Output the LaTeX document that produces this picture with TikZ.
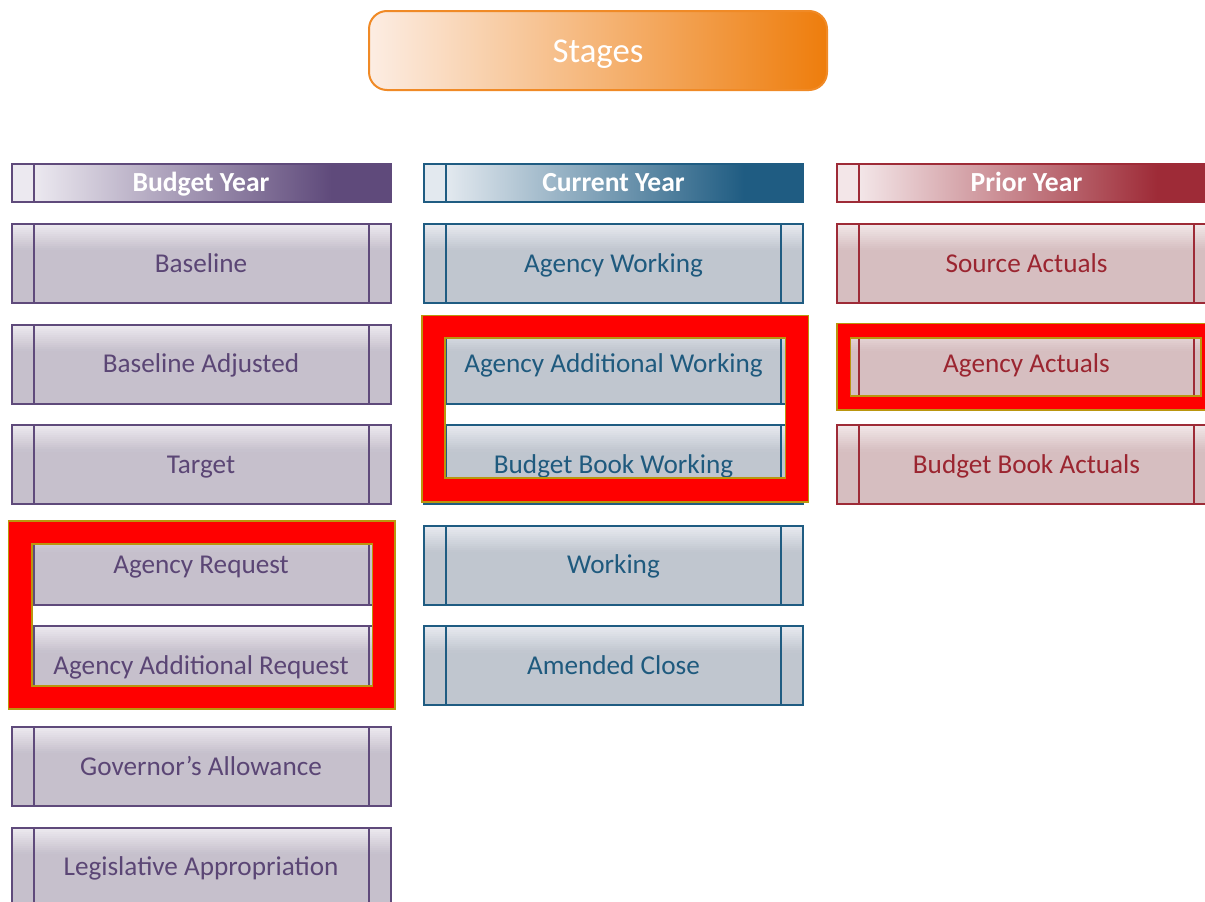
\documentclass[tikz,border=0pt]{standalone}
\usepackage{fontspec}
\setmainfont{Carlito}
\definecolor{byline}{HTML}{5F4A7B}
\definecolor{byfill}{HTML}{C6C0CC}
\definecolor{bytop}{HTML}{ECE9EF}
\definecolor{bytext}{HTML}{5B4675}
\definecolor{byhl}{HTML}{ECE9F0}
\definecolor{cyline}{HTML}{1F5C82}
\definecolor{cyfill}{HTML}{C0C6CF}
\definecolor{cytop}{HTML}{E7E9EF}
\definecolor{cytext}{HTML}{1F5A7E}
\definecolor{cyhl}{HTML}{E3E9EF}
\definecolor{pyline}{HTML}{9E2B37}
\definecolor{pyfill}{HTML}{D6BEC0}
\definecolor{pytop}{HTML}{F1E7E8}
\definecolor{pytext}{HTML}{9B2530}
\definecolor{pyhl}{HTML}{F3E6E8}
\definecolor{stgline}{HTML}{F08A26}
\definecolor{stglight}{HTML}{FCEDE3}
\definecolor{stgmid}{HTML}{F2AE70}
\definecolor{stgdark}{HTML}{EE7D0C}
\definecolor{hlgold}{HTML}{BA960E}
\tikzset{
  every node/.style={inner sep=0pt, outer sep=0pt},
  stgbox/.style={rectangle, minimum width=379pt, minimum height=79pt,
    line width=2pt, draw=#1line, fill=#1fill, text=#1text,
    text height=20pt, text depth=3pt,
    font=\fontsize{27.2}{30}\selectfont,
    path picture={
      \foreach \i in {0,...,12}{
        \pgfmathtruncatemacro\pp{100-\i*8}
        \pgfmathsetmacro\ya{-2*\i}
        \pgfmathsetmacro\yb{-2*\i-2.4}
        \fill[#1top!\pp!#1fill]
          ([yshift=\ya pt]path picture bounding box.north west) rectangle
          ([yshift=\yb pt]path picture bounding box.north east);
      }
      \draw[#1line, line width=2pt]
        ([xshift=22pt]path picture bounding box.north west) --
        ([xshift=22pt]path picture bounding box.south west)
        ([xshift=-22pt]path picture bounding box.north east) --
        ([xshift=-22pt]path picture bounding box.south east);
    }},
  stghead/.style={rectangle, minimum width=379pt, minimum height=38pt,
    line width=2pt, draw=#1line, text=white,
    text height=20.5pt, text depth=2.5pt,
    font=\bfseries\fontsize{27.6}{30}\selectfont,
    path picture={
      \fill[#1hl] (path picture bounding box.north west) rectangle
        ([xshift=22pt]path picture bounding box.south west);
      \fill[left color=#1hl, right color=#1line]
        ([xshift=22pt]path picture bounding box.north west) rectangle
        ([xshift=320pt]path picture bounding box.south west);
      \fill[#1line] ([xshift=320pt]path picture bounding box.north west)
        rectangle (path picture bounding box.south east);
      \draw[#1line, line width=2pt]
        ([xshift=22pt]path picture bounding box.north west) --
        ([xshift=22pt]path picture bounding box.south west);
    }},
  stagesbox/.style={rectangle, rounded corners=18pt, minimum width=458pt,
    minimum height=79pt, line width=2pt, draw=stgline,
    left color=stglight, middle color=stgmid, right color=stgdark,
    text height=26pt, text depth=1.6pt,
    text=white, font=\fontsize{34.8}{40}\selectfont},
  hlframe/.style={fill=red, even odd rule},
  hledge/.style={draw=hlgold, line width=1.6pt},
}
\begin{document}
\begin{tikzpicture}[x=1pt, y=-1pt]
\useasboundingbox (0,0) rectangle (1205,902);
\clip (0,0) rectangle (1205,902);
\fill[white] (0,0) rectangle (1205,902);

\node[stagesbox] (stages) at (598,50.5) {Stages};

% Budget Year
\node[stghead=by] (byh) at (201,182.5) {Budget Year};
\node[stgbox=by] (base) at (201,263.5) {Baseline};
\node[stgbox=by] (basea) at (201,364.1) {Baseline Adjusted};
\node[stgbox=by] (target) at (201,464.7) {Target};
\node[stgbox=by] (areq) at (201,565.3) {Agency Request};
\node[stgbox=by] (aareq) at (201,665.9) {Agency Additional Request};
\node[stgbox=by] (gov) at (201,766.5) {Governor’s Allowance};
\node[stgbox=by] (leg) at (201,867.1) {Legislative Appropriation};

% Current Year
\node[stghead=cy] (cyh) at (613.5,182.5) {Current Year};
\node[stgbox=cy] (aw) at (613.5,263.5) {Agency Working};
\node[stgbox=cy] (aaw) at (613.5,364.1) {Agency Additional Working};
\node[stgbox=cy] (bbw) at (613.5,464.7) {Budget Book Working};
\node[stgbox=cy] (work) at (613.5,565.3) {Working};
\node[stgbox=cy] (amc) at (613.5,665.9) {Amended Close};

% Prior Year
\node[stghead=py] (pyh) at (1026.5,182.5) {Prior Year};
\node[stgbox=py] (sa) at (1026.5,263.5) {Source Actuals};
\node[stgbox=py] (aa) at (1026.5,364.1) {Agency Actuals};
\node[stgbox=py] (bba) at (1026.5,464.7) {Budget Book Actuals};

% highlight frames
\path[hlframe] (8.5,521) rectangle (395,709) (32,544) rectangle (372.5,686);
\draw[hledge] (8.5,521) rectangle (395,709);
\draw[hledge] (32,544) rectangle (372.5,686);

\path[hlframe] (422,315.5) rectangle (808.5,502) (445,338) rectangle (785.5,478);
\draw[hledge] (422,315.5) rectangle (808.5,502);
\draw[hledge] (445,338) rectangle (785.5,478);

\path[hlframe] (837,323.5) rectangle (1220,410) (850.5,338) rectangle (1201,396);
\draw[hledge] (837,323.5) rectangle (1220,410);
\draw[hledge] (850.5,338) rectangle (1201,396);
\end{tikzpicture}
\end{document}
